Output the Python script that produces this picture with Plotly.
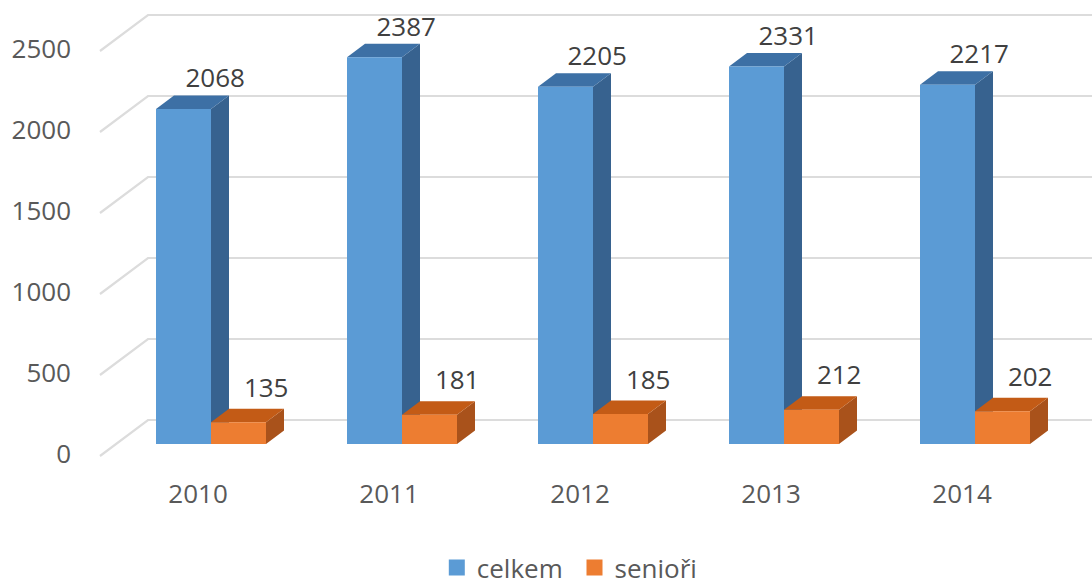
import plotly.graph_objects as go

# values
years = ["2010", "2011", "2012", "2013", "2014"]
celkem = [2068, 2387, 2205, 2331, 2217]
seniori = [135, 181, 185, 212, 202]
y_ticks = [0, 500, 1000, 1500, 2000, 2500]

# fake 3D projection, x in category units, y in value units
PX_X = 191.0
PX_Y = 0.162
BAR_W = 55 / PX_X
DEPTH_X = 18 / PX_X
DEPTH_Y = 13.5 / PX_Y
WALL_X = 48 / PX_X
WALL_LEFT = -8 / PX_X
WALL_BACK = 24 / PX_Y
WALL_FRONT = -12 / PX_Y

FONT = "Open Sans"
GRID = "#dcdcdc"
TICK_COLOR = "#595959"
LABEL_COLOR = "#404040"


def faces(values, offset):
    """Front, top and side polygons of one series, split by None."""
    front_x, front_y, top_x, top_y, side_x, side_y = [], [], [], [], [], []
    for i, v in enumerate(values):
        x0 = i + offset
        x1 = x0 + BAR_W
        front_x += [x0, x1, x1, x0, x0, None]
        front_y += [0, 0, v, v, 0, None]
        top_x += [x0, x1, x1 + DEPTH_X, x0 + DEPTH_X, x0, None]
        top_y += [v, v, v + DEPTH_Y, v + DEPTH_Y, v, None]
        side_x += [x1, x1 + DEPTH_X, x1 + DEPTH_X, x1, x1, None]
        side_y += [0, DEPTH_Y, v + DEPTH_Y, v, 0, None]
    return (front_x, front_y), (top_x, top_y), (side_x, side_y)


def add_poly(fig, xy, color):
    fig.add_trace(go.Scatter(
        x=xy[0], y=xy[1], mode="lines", fill="toself", fillcolor=color,
        line=dict(width=0), hoverinfo="skip", showlegend=False,
    ))


fig = go.Figure()

# back wall grid lines with the short diagonal on the left wall
grid_x, grid_y = [], []
for t in y_ticks:
    grid_x += [WALL_LEFT - WALL_X, WALL_LEFT, 5, None]
    grid_y += [t + WALL_FRONT, t + WALL_BACK, t + WALL_BACK, None]
fig.add_trace(go.Scatter(
    x=grid_x, y=grid_y, mode="lines", line=dict(color=GRID, width=2.2),
    hoverinfo="skip", showlegend=False,
))

# bars, blue first so the orange ones sit in front
blue_front, blue_top, blue_side = faces(celkem, 0)
add_poly(fig, blue_side, "#37628f")
add_poly(fig, blue_top, "#3d70a5")
add_poly(fig, blue_front, "#5b9bd5")

orange_front, orange_top, orange_side = faces(seniori, BAR_W)
add_poly(fig, orange_side, "#a9521b")
add_poly(fig, orange_top, "#c35b16")
add_poly(fig, orange_front, "#ed7d31")

# data labels
fig.add_trace(go.Scatter(
    x=[i + 0.31 for i in range(len(years))], y=[v + 28 / PX_Y for v in celkem],
    mode="text", text=[str(v) for v in celkem], textposition="middle center",
    textfont=dict(family=FONT, size=26, color=LABEL_COLOR),
    hoverinfo="skip", showlegend=False, cliponaxis=False,
))
fig.add_trace(go.Scatter(
    x=[i + 0.577 for i in range(len(years))], y=[v + 32 / PX_Y for v in seniori],
    mode="text", text=[str(v) for v in seniori], textposition="middle center",
    textfont=dict(family=FONT, size=26, color=LABEL_COLOR),
    hoverinfo="skip", showlegend=False, cliponaxis=False,
))

# axis labels sit on the front edge of the walls
fig.add_trace(go.Scatter(
    x=[-0.445] * len(y_ticks), y=[t - 12 / PX_Y for t in y_ticks],
    mode="text", text=[str(t) for t in y_ticks], textposition="middle left",
    textfont=dict(family=FONT, size=26, color=TICK_COLOR),
    hoverinfo="skip", showlegend=False, cliponaxis=False,
))
fig.add_trace(go.Scatter(
    x=[i + 0.22 for i in range(len(years))], y=[-52 / PX_Y] * len(years),
    mode="text", text=years, textposition="middle center",
    textfont=dict(family=FONT, size=26, color=TICK_COLOR),
    hoverinfo="skip", showlegend=False, cliponaxis=False,
))

# legend entries only, the nbsp widens the gap between the two items
for name, color in [("celkem\u00a0", "#5b9bd5"), ("senioři", "#ed7d31")]:
    fig.add_trace(go.Scatter(
        x=[None], y=[None], mode="markers", name=name,
        marker=dict(symbol="square", size=16, color=color),
    ))

fig.update_layout(
    width=1092,
    height=579,
    margin=dict(l=0, r=0, t=0, b=0, autoexpand=False),
    paper_bgcolor="white",
    plot_bgcolor="white",
    xaxis=dict(range=[-156 / PX_X, (1092 - 156) / PX_X], visible=False),
    yaxis=dict(range=[-135 / PX_Y, 444 / PX_Y], visible=False),
    legend=dict(
        orientation="h", x=0.4, xanchor="left", y=-0.021, yanchor="bottom",
        font=dict(family=FONT, size=26, color=TICK_COLOR),
        bgcolor="rgba(0,0,0,0)", itemsizing="trace",
    ),
)

# drop the default body margin so the figure fills the window
fig.write_html(
    "out.html",
    config=dict(displayModeBar=False),
    post_script="document.body.style.margin='0';document.documentElement.style.overflow='hidden';",
)
